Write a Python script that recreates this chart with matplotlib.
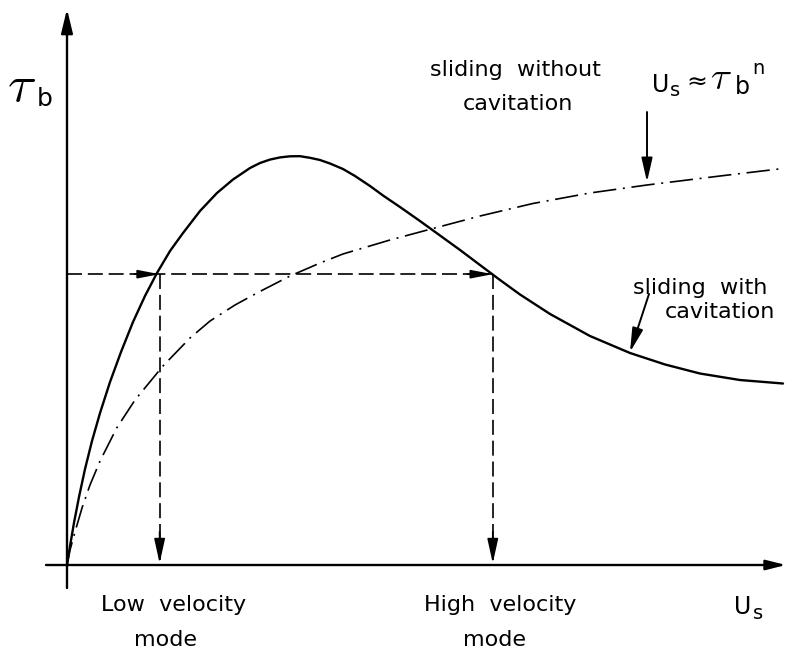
import matplotlib
matplotlib.use("Agg")
import matplotlib.pyplot as plt

# ---------------- data (arbitrary units) ----------------
# sliding with cavitation (solid curve): U_s (x) vs tau_b (y)
solid_x = [0.000, 0.042, 0.097, 0.167, 0.251, 0.348, 0.460, 0.599, 0.752, 0.919,
           1.086, 1.253, 1.435, 1.616, 1.852, 2.089, 2.312, 2.549, 2.688, 2.827,
           2.967, 3.106, 3.245, 3.384, 3.524, 3.663, 3.844, 4.011, 4.220, 4.401,
           4.638, 4.916, 5.195, 5.474, 5.752, 6.031, 6.309, 6.727, 7.284, 7.841,
           8.329, 8.816, 9.373, 9.972]
solid_y = [0.000, 0.342, 0.757, 1.225, 1.730, 2.234, 2.739, 3.297, 3.838, 4.378,
           4.847, 5.261, 5.658, 5.982, 6.378, 6.703, 6.946, 7.153, 7.243, 7.305,
           7.344, 7.364, 7.366, 7.337, 7.297, 7.234, 7.135, 7.009, 6.829, 6.658,
           6.450, 6.198, 5.937, 5.676, 5.405, 5.135, 4.874, 4.523, 4.126, 3.820,
           3.613, 3.450, 3.333, 3.270]
# sliding without cavitation, U_s ~ tau_b^n (dash-dot curve)
nocav_x = [0.000, 0.042, 0.111, 0.209, 0.320, 0.460, 0.692, 0.947, 1.337, 1.713,
           1.992, 2.340, 2.646, 3.106, 3.524, 3.844, 4.499, 5.097, 5.752, 6.490,
           7.284, 8.078, 9.095, 9.972]
nocav_y = [0.000, 0.270, 0.595, 1.027, 1.441, 1.874, 2.468, 2.973, 3.586, 4.090,
           4.396, 4.685, 4.901, 5.207, 5.441, 5.604, 5.856, 6.063, 6.288, 6.514,
           6.703, 6.847, 7.009, 7.144]
# applied basal shear stress and the two velocity modes
tau_applied = 5.24
low_mode_x = 1.29
high_mode_x = 5.93

# pixel -> data helpers for layout only
PX_X, PX_Y = 71.8, 55.5
OX, OY = 67, 565
def X(px):
    return (px - OX) / PX_X
def Y(py):
    return (OY - py) / PX_Y

plt.rcParams['font.family'] = ['DejaVu Sans']

fig = plt.figure(figsize=(7.88, 6.60), dpi=100)
ax = fig.add_axes([0, 0, 1, 1])
ax.set_xlim(X(0), X(788))
ax.set_ylim(Y(660), Y(0))
ax.axis('off')

k = 'black'

def arrow(tail, tip, hl, hw, lw=1.4):
    ax.annotate('', xy=tip, xytext=tail,
                arrowprops=dict(arrowstyle=f'-|>,head_length={hl},head_width={hw}',
                                lw=lw, color=k, shrinkA=0, shrinkB=0,
                                mutation_scale=10))

# axes with arrows
arrow((X(46), 0), (X(786), 0), 1.2, 0.3, lw=1.7)
arrow((0, Y(588)), (0, Y(9)), 1.45, 0.35, lw=1.7)

# curves
ax.plot(solid_x, solid_y, color=k, lw=1.7, solid_capstyle='round',
        solid_joinstyle='round')
ax.plot(nocav_x, nocav_y, color=k, lw=1.2, linestyle=(0, (14, 4, 1.2, 4)))

# dashed construction lines
dash = (0, (9, 3.5))
ax.plot([0, high_mode_x], [tau_applied, tau_applied], color=k, lw=1.2, linestyle=dash)
ax.plot([low_mode_x, low_mode_x], [tau_applied, 0], color=k, lw=1.2, linestyle=dash)
ax.plot([high_mode_x, high_mode_x], [tau_applied, 0], color=k, lw=1.2, linestyle=dash)
arrow((low_mode_x - 0.35, tau_applied), (low_mode_x, tau_applied), 1.3, 0.25, lw=1.2)
arrow((high_mode_x - 0.35, tau_applied), (high_mode_x, tau_applied), 1.3, 0.25, lw=1.2)
arrow((low_mode_x, 0.6), (low_mode_x, 0.03), 1.5, 0.33, lw=1.2)
arrow((high_mode_x, 0.6), (high_mode_x, 0.03), 1.5, 0.33, lw=1.2)

# label arrows
arrow((X(647), Y(112)), (X(647), Y(182)), 1.45, 0.33, lw=1.4)
arrow((X(649), Y(294)), (X(630), Y(352)), 1.45, 0.33, lw=1.4)

fs = 16
# y-axis label tau_b
ax.text(X(7), Y(101), r'$\tau$', fontsize=38, math_fontfamily='cm',
        ha='left', va='baseline')
ax.text(X(37), Y(106), 'b', fontsize=18, ha='left', va='baseline')

# U_s ≈ tau_b^n
ax.text(X(652), Y(92), 'U', fontsize=17, ha='left', va='baseline')
ax.text(X(670), Y(96), 's', fontsize=14, ha='left', va='baseline')
ax.text(X(686), Y(90), '≈', fontsize=18, ha='left', va='baseline')
ax.text(X(710), Y(89), r'$\tau$', fontsize=28, math_fontfamily='cm',
        ha='left', va='baseline')
ax.text(X(735), Y(94), 'b', fontsize=17, ha='left', va='baseline')
ax.text(X(752), Y(74), 'n', fontsize=14, ha='left', va='baseline')

ax.text(X(515), Y(76), 'sliding  without', fontsize=fs, ha='center', va='baseline')
ax.text(X(518), Y(110), 'cavitation', fontsize=fs, ha='center', va='baseline')

ax.text(X(700), Y(294), 'sliding  with', fontsize=fs, ha='center', va='baseline')
ax.text(X(720), Y(318), 'cavitation', fontsize=fs, ha='center', va='baseline')

ax.text(X(174), Y(611), 'Low  velocity', fontsize=fs, ha='center', va='baseline')
ax.text(X(166), Y(646), 'mode', fontsize=fs, ha='center', va='baseline')
ax.text(X(500), Y(611), 'High  velocity', fontsize=fs, ha='center', va='baseline')
ax.text(X(494), Y(646), 'mode', fontsize=fs, ha='center', va='baseline')

ax.text(X(734), Y(614), 'U', fontsize=17, ha='left', va='baseline')
ax.text(X(753), Y(619), 's', fontsize=14, ha='left', va='baseline')

fig.savefig('out.png', dpi=100, facecolor='white')
